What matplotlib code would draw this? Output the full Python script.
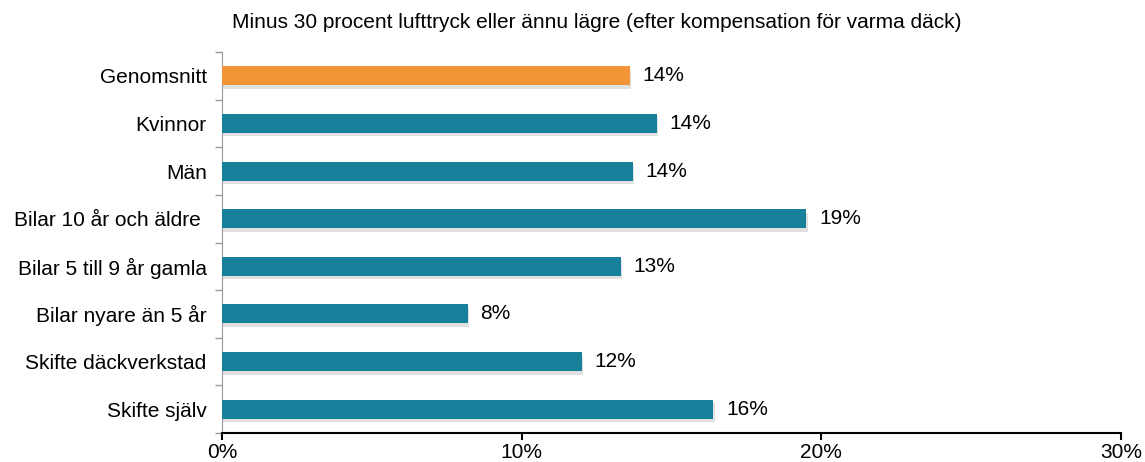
import matplotlib.pyplot as plt
import matplotlib.patheffects as pe
from matplotlib.ticker import FixedLocator

plt.rcParams['font.family'] = ['Liberation Sans', 'DejaVu Sans']

categories = ["Genomsnitt", "Kvinnor", "Män", "Bilar 10 år och äldre ",
              "Bilar 5 till 9 år gamla", "Bilar nyare än 5 år",
              "Skifte däckverkstad", "Skifte själv"]
values = [13.6, 14.5, 13.7, 19.5, 13.3, 8.2, 12.0, 16.4]
labels = ["14%", "14%", "14%", "19%", "13%", "8%", "12%", "16%"]
colors = ["#F39537"] + ["#17819B"] * 7
xticks = [0, 10, 20, 30]
xticklabels = ["0%", "10%", "20%", "30%"]
title = "Minus 30 procent lufttryck eller ännu lägre (efter kompensation för varma däck)"

fig = plt.figure(figsize=(11.45, 4.62), dpi=100)
ax = fig.add_axes([222 / 1145, 29 / 462, 899 / 1145, 381 / 462])

n = len(categories)
ypos = list(range(n))
bars = ax.barh(ypos, values, height=0.4, color=colors, zorder=3)
for b in bars:
    b.set_path_effects([pe.SimplePatchShadow(offset=(1, -2.5), shadow_rgbFace="#999999", alpha=0.3),
                        pe.Normal()])
for y, v, t in zip(ypos, values, labels):
    ax.text(v + 0.42, y, t, va="center", ha="left", fontsize=15)

ax.set_xlim(0, 30)
ax.set_ylim(n - 0.5, -0.5)
ax.set_xticks(xticks)
ax.set_xticklabels(xticklabels, fontsize=15)
ax.set_yticks(ypos)
ax.set_yticklabels(categories, fontsize=15)
ax.tick_params(axis="y", length=0, pad=11)
ax.yaxis.set_minor_locator(FixedLocator([i - 0.5 for i in range(n + 1)]))
ax.tick_params(axis="y", which="minor", length=5, color="#999999", width=1)
ax.tick_params(axis="x", length=5, width=1.5, pad=2)

for s in ["top", "right"]:
    ax.spines[s].set_visible(False)
ax.spines["left"].set_color("#999999")
ax.spines["bottom"].set_linewidth(1.5)

fig.text(597 / 1145, 1 - 22 / 462, title, ha="center", va="center", fontsize=15)

plt.savefig("out.png", dpi=100)
